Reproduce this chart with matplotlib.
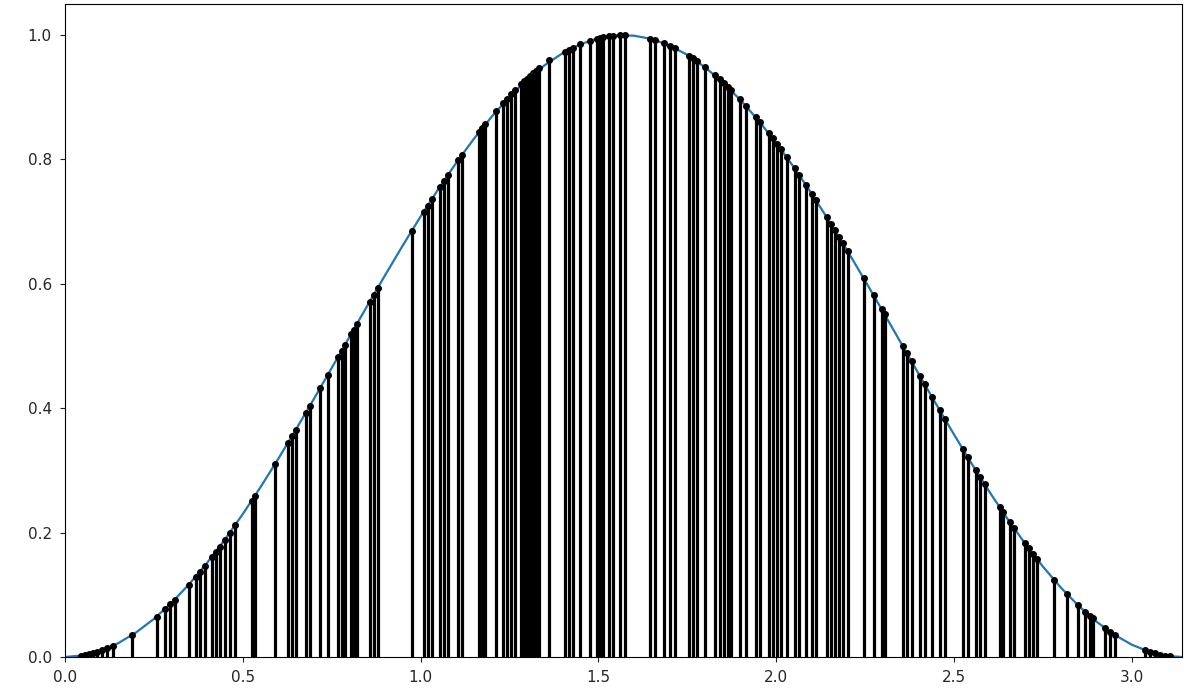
import matplotlib
matplotlib.use('Agg')
import matplotlib.pyplot as plt
import numpy as np

# curve y = sin^2(x) on [0, pi], sampled every 0.05
curve_x = [0.0, 0.05, 0.10, 0.15, 0.20, 0.25, 0.30, 0.35, 0.40, 0.45,
           0.50, 0.55, 0.60, 0.65, 0.70, 0.75, 0.80, 0.85, 0.90, 0.95,
           1.00, 1.05, 1.10, 1.15, 1.20, 1.25, 1.30, 1.35, 1.40, 1.45,
           1.50, 1.55, 1.60, 1.65, 1.70, 1.75, 1.80, 1.85, 1.90, 1.95,
           2.00, 2.05, 2.10, 2.15, 2.20, 2.25, 2.30, 2.35, 2.40, 2.45,
           2.50, 2.55, 2.60, 2.65, 2.70, 2.75, 2.80, 2.85, 2.90, 2.95,
           3.00, 3.05, 3.10, 3.1416]
curve_y = [0.0, 0.0025, 0.0100, 0.0223, 0.0395, 0.0612, 0.0873, 0.1176, 0.1516, 0.1892,
           0.2298, 0.2732, 0.3188, 0.3663, 0.4150, 0.4646, 0.5146, 0.5645, 0.6136, 0.6617,
           0.7081, 0.7524, 0.7943, 0.8332, 0.8687, 0.9006, 0.9285, 0.9520, 0.9711, 0.9854,
           0.9950, 0.9996, 0.9991, 0.9938, 0.9835, 0.9683, 0.9483, 0.9241, 0.8955, 0.8630,
           0.8268, 0.7875, 0.7451, 0.7002, 0.6537, 0.6054, 0.5561, 0.5062, 0.4563, 0.4068,
           0.3582, 0.3110, 0.2657, 0.2228, 0.1827, 0.1457, 0.1122, 0.0827, 0.0573, 0.0363,
           0.0199, 0.0084, 0.0017, 0.0]

# accepted sample points (x, f(x))
sample_x = [0.044, 0.056, 0.067, 0.078, 0.089, 0.103, 0.118, 0.134, 0.188, 0.258,
            0.281, 0.295, 0.309, 0.348, 0.368, 0.379, 0.393, 0.413, 0.424, 0.435,
            0.449, 0.463, 0.478, 0.525, 0.534, 0.590, 0.627, 0.638, 0.649, 0.677,
            0.688, 0.717, 0.739, 0.767, 0.778, 0.787, 0.804, 0.812, 0.821, 0.857,
            0.868, 0.880, 0.975, 1.009, 1.020, 1.031, 1.054, 1.065, 1.076, 1.105,
            1.116, 1.164, 1.172, 1.181, 1.211, 1.231, 1.242, 1.254, 1.265, 1.282,
            1.290, 1.299, 1.307, 1.316, 1.324, 1.332, 1.361, 1.406, 1.417, 1.428,
            1.448, 1.476, 1.496, 1.504, 1.512, 1.529, 1.541, 1.560, 1.574, 1.645,
            1.659, 1.684, 1.701, 1.715, 1.754, 1.765, 1.777, 1.799, 1.827, 1.841,
            1.853, 1.864, 1.872, 1.898, 1.914, 1.943, 1.954, 1.979, 1.990, 2.002,
            2.013, 2.030, 2.052, 2.064, 2.083, 2.100, 2.111, 2.142, 2.154, 2.165,
            2.176, 2.187, 2.201, 2.246, 2.274, 2.297, 2.305, 2.356, 2.367, 2.381,
            2.404, 2.418, 2.438, 2.460, 2.474, 2.525, 2.539, 2.561, 2.573, 2.587,
            2.629, 2.638, 2.657, 2.668, 2.699, 2.710, 2.722, 2.733, 2.783, 2.817,
            2.848, 2.868, 2.882, 2.890, 2.924, 2.938, 2.952, 3.037, 3.051, 3.065,
            3.079, 3.093, 3.107]
sample_y = [0.0019, 0.0031, 0.0045, 0.0061, 0.0079, 0.0106, 0.0139, 0.0179, 0.0350, 0.0650,
            0.0770, 0.0850, 0.0920, 0.1163, 0.1294, 0.1369, 0.1467, 0.1611, 0.1693, 0.1776,
            0.1884, 0.1995, 0.2116, 0.2512, 0.2592, 0.3096, 0.3447, 0.3552, 0.3657, 0.3925,
            0.4032, 0.4318, 0.4537, 0.4816, 0.4926, 0.5016, 0.5186, 0.5266, 0.5356, 0.5713,
            0.5822, 0.5940, 0.6851, 0.7162, 0.7260, 0.7358, 0.7560, 0.7655, 0.7748, 0.7989,
            0.8078, 0.8448, 0.8507, 0.8571, 0.8777, 0.8907, 0.8976, 0.9049, 0.9114, 0.9210,
            0.9254, 0.9302, 0.9344, 0.9389, 0.9428, 0.9466, 0.9594, 0.9731, 0.9765, 0.9798,
            0.9850, 0.9910, 0.9944, 0.9955, 0.9965, 0.9983, 0.9991, 0.9999, 1.0000, 0.9945,
            0.9922, 0.9872, 0.9831, 0.9793, 0.9668, 0.9628, 0.9581, 0.9488, 0.9358, 0.9288,
            0.9225, 0.9165, 0.9120, 0.8968, 0.8868, 0.8678, 0.8603, 0.8425, 0.8344, 0.8253,
            0.8169, 0.8034, 0.7856, 0.7757, 0.7596, 0.7449, 0.7353, 0.7075, 0.6965, 0.6864,
            0.6761, 0.6658, 0.6525, 0.6094, 0.5819, 0.5590, 0.5511, 0.5002, 0.4892, 0.4752,
            0.4523, 0.4384, 0.4187, 0.3971, 0.3835, 0.3346, 0.3215, 0.3012, 0.2902, 0.2775,
            0.2408, 0.2331, 0.2172, 0.2081, 0.1834, 0.1750, 0.1660, 0.1578, 0.1232, 0.1017,
            0.0838, 0.0730, 0.0659, 0.0620, 0.0466, 0.0408, 0.0355, 0.0109, 0.0082, 0.0059,
            0.0039, 0.0024, 0.0012]

fig = plt.figure(figsize=(11.86, 6.91), dpi=100)
ax = fig.add_axes([0.0548, 0.0492, 0.9418, 0.945])

ax.plot(curve_x, curve_y, color='C0', lw=1.6, zorder=2)
ax.vlines(sample_x, 0, sample_y, color='black', lw=2.3, zorder=3)
ax.plot(sample_x, sample_y, 'o', color='black', markersize=4, zorder=4)

ax.set_xlim(0, np.pi)
ax.set_ylim(0, 1.05)
ax.tick_params(labelsize=11, pad=6, colors='#222222', labelcolor='#262626')

plt.savefig('out.png', dpi=100)
